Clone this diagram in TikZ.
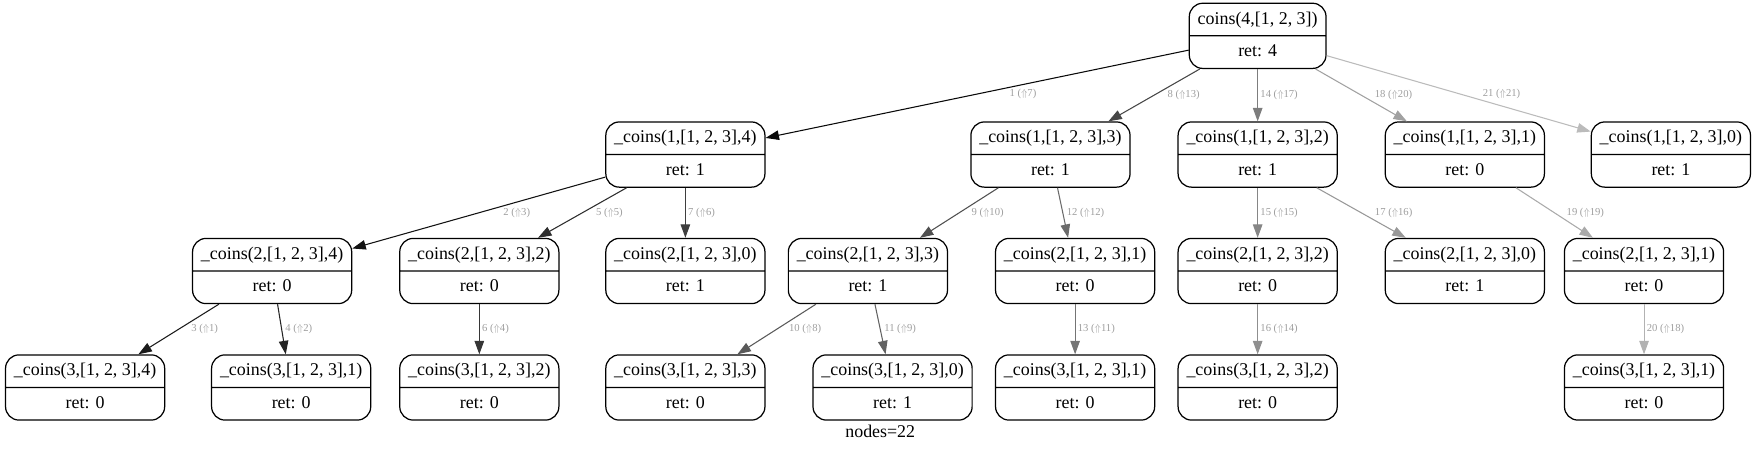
\documentclass[tikz,border=0pt]{standalone}
\usepackage{fontspec}
\setmainfont{Liberation Serif}
\usetikzlibrary{shapes.multipart, arrows.meta, calc}

\begin{document}
\begin{tikzpicture}[x = 1pt, y = -1pt,
  call/.style = {draw, line width = 1.1pt, rectangle split, rectangle split parts = 2,
    rounded corners = 12pt, inner xsep = 7.5pt, inner ysep = 6pt,
    font = \fontsize{16}{18}\selectfont},
  calledge/.style = {line width = 0.95pt, -{Triangle[length = 12pt, width = 8.5pt]}},
  edgelabel/.style = {font = \fontsize{9.5}{11}\selectfont, text = black!38,
    anchor = west, inner sep = 1pt}]
  \def \callstrut{\rule[-4pt]{0pt}{16pt}};
  \def \yzero {32};
  \def \yone {138};
  \def \ytwo {242};
  \def \ythree {346};
  \def \halflabel {5.5};

  \useasboundingbox (0, 0) rectangle (1568, 403.6);

  % Draw the top call.
  \node[call] (root) at (1123, \yzero)
    {\callstrut coins(4,[1, 2, 3]) \nodepart{two} \callstrut ret: 4};

  % Draw the recursive calls, row by row.
  \foreach \name/\xc/\k/\ret in {a4/612/4/1, a3/938/3/1, a2/1123/2/1, a1/1308/1/0, a0/1492/0/1} {
    \node[call] (\name) at (\xc, \yone)
      {\callstrut \_coins(1,[1, 2, 3],\k) \nodepart{two} \callstrut ret: \ret};
  };
  \foreach \name/\xc/\k/\ret in {b4/243/4/0, b2/428/2/0, b0/612/0/1, b3/775/3/1,
                                 b1/960/1/0, bb2/1123/2/0, bb0/1308/0/1, bb1/1468/1/0} {
    \node[call] (\name) at (\xc, \ytwo)
      {\callstrut \_coins(2,[1, 2, 3],\k) \nodepart{two} \callstrut ret: \ret};
  };
  \foreach \name/\xc/\k/\ret in {c4/76/4/0, c1/260/1/0, c2/428/2/0, c3/612/3/0,
                                 c0/797/0/1, cc1/960/1/0, cc2/1123/2/0, ccc1/1468/1/0} {
    \node[call] (\name) at (\xc, \ythree)
      {\callstrut \_coins(3,[1, 2, 3],\k) \nodepart{two} \callstrut ret: \ret};
  };

  % Draw call edges, darker for earlier calls; labels sit just right of the line.
  \foreach \src/\dst/\num/\up in {root/a4/1/7, a4/b4/2/3, b4/c4/3/1, b4/c1/4/2, a4/b2/5/5,
                                  b2/c2/6/4, a4/b0/7/6, root/a3/8/13, a3/b3/9/10, b3/c3/10/8,
                                  b3/c0/11/9, a3/b1/12/12, b1/cc1/13/11, root/a2/14/17,
                                  a2/bb2/15/15, bb2/cc2/16/14, a2/bb0/17/16, root/a1/18/20,
                                  a1/bb1/19/19, bb1/ccc1/20/18, root/a0/21/21} {
    \pgfmathsetmacro{\shade}{100 - 3.5 * \num};
    \draw[calledge, black!\shade]
      let \p1 = (\src), \p2 = (\dst), \n1 = {\halflabel * abs((\x2 - \x1) / (\y2 - \y1))} in
      (\src) -- node[edgelabel, xshift = \n1 + 1] {\num\ ($\Uparrow$\up)} (\dst);
  };

  % Draw the node count.
  \node[font = \fontsize{16}{18}\selectfont] (count) at (786, 385) {nodes=22};
\end{tikzpicture}
\end{document}
